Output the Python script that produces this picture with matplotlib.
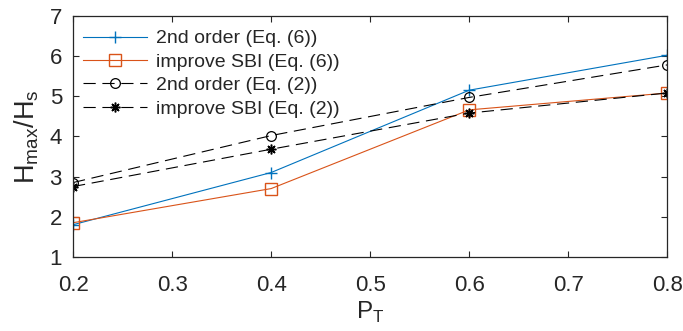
import matplotlib
matplotlib.use("Agg")
import matplotlib.pyplot as plt

p_t = [0.2, 0.4, 0.6, 0.8]
second_order_eq6 = [1.80, 3.10, 5.15, 6.02]
improve_sbi_eq6 = [1.85, 2.70, 4.66, 5.08]
second_order_eq2 = [2.85, 4.02, 4.97, 5.78]
improve_sbi_eq2 = [2.75, 3.68, 4.58, 5.08]

labels = ["2nd order (Eq. (6))", "improve SBI (Eq. (6))",
          "2nd order (Eq. (2))", "improve SBI (Eq. (2))"]
x_ticks = [0.2, 0.3, 0.4, 0.5, 0.6, 0.7, 0.8]
y_ticks = [1, 2, 3, 4, 5, 6, 7]

plt.rcParams["font.family"] = ["Liberation Sans", "DejaVu Sans"]
plt.rcParams["mathtext.fontset"] = "custom"
plt.rcParams["mathtext.rm"] = "Liberation Sans"
axis_col = "#262626"
dash = (0, (11, 6))
asterisk = (8, 2, 0)

fig = plt.figure(figsize=(6.83, 3.31), dpi=100)
ax = fig.add_axes([0.107, 0.224, 0.870, 0.728])

ax.plot(p_t, second_order_eq6, color="#0072BD", lw=0.8, marker="+",
        ms=8, mew=1.0, label=labels[0])
ax.plot(p_t, improve_sbi_eq6, color="#D95319", lw=0.8, marker="s",
        ms=8, mfc="none", mew=1.0, label=labels[1])
ax.plot(p_t, second_order_eq2, color="black", lw=0.8, ls=dash,
        marker="o", ms=7, mfc="none", mew=0.9, label=labels[2])
ax.plot(p_t, improve_sbi_eq2, color="black", lw=0.8, ls=dash,
        marker=asterisk, ms=7, mew=1.1, label=labels[3])

ax.set_xlim(0.2, 0.8)
ax.set_ylim(1, 7)
ax.set_xticks(x_ticks)
ax.set_yticks(y_ticks)
ax.set_xticklabels([f"{v:.1f}" for v in x_ticks])
ax.tick_params(direction="in", top=True, right=True, length=4,
               width=0.8, colors=axis_col, labelsize=16)
ax.tick_params(axis="x", pad=13)
ax.tick_params(axis="y", pad=8)
for s in ax.spines.values():
    s.set_color(axis_col)
    s.set_linewidth(0.9)

ax.set_xlabel(r"P$_\mathregular{T}$", fontsize=17.5, color=axis_col, labelpad=3)
ax.set_ylabel(r"H$_\mathregular{max}$/H$_\mathregular{s}$", fontsize=19.5,
              color=axis_col, labelpad=6)

leg = ax.legend(loc="upper left", bbox_to_anchor=(0.0, 0.983), frameon=False,
                fontsize=14, handlelength=3.3, handletextpad=0.45,
                labelspacing=0.3, borderaxespad=0.2, borderpad=0.3)
for t in leg.get_texts():
    t.set_color(axis_col)

fig.savefig("out.png", dpi=100)
